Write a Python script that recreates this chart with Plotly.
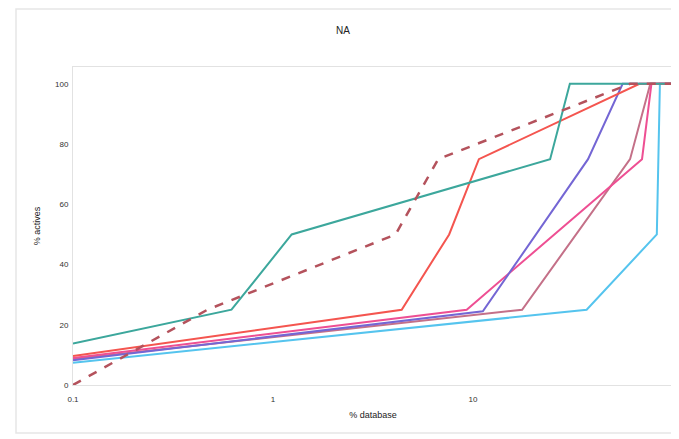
import plotly.graph_objects as go

# Data (x = % database, log scale; y = % actives)
teal_x = [0.1, 0.62, 1.24, 24.3, 30.5, 100]
teal_y = [13.8, 25, 50, 75, 100, 100]

dash_x = [0.1, 0.47, 4.1, 6.7, 61, 100]
dash_y = [0, 25, 50, 75, 100, 100]

red_x = [0.1, 4.4, 7.6, 10.7, 68, 100]
red_y = [9.6, 25, 50, 75, 100, 100]

violet_x = [0.1, 11.2, 37.6, 56, 100]
violet_y = [8.2, 24.5, 75, 100, 100]

pink_x = [0.1, 9.3, 70, 78, 100]
pink_y = [9.0, 25, 75, 100, 100]

mauve_x = [0.1, 17.6, 61, 77, 100]
mauve_y = [8.6, 25, 75, 100, 100]

cyan_x = [0.1, 37, 83, 86, 100]
cyan_y = [7.4, 25, 50, 100, 100]

x_ticks = [0.1, 1, 10, 100]
x_ticktext = ["0.1", "1", "10", "100"]
y_ticks = [0, 20, 40, 60, 80, 100]

series = [
    (cyan_x, cyan_y, "#55c4ee", "solid", 2),
    (mauve_x, mauve_y, "#c47088", "solid", 2),
    (pink_x, pink_y, "#ee4f93", "solid", 2),
    (violet_x, violet_y, "#7466d4", "solid", 2),
    (red_x, red_y, "#f4554f", "solid", 2),
    (teal_x, teal_y, "#3ca79c", "solid", 2),
    (dash_x, dash_y, "#b4525c", "dash", 2.5),
]

fig = go.Figure()
for xs, ys, col, dash, w in series:
    fig.add_trace(go.Scatter(x=xs, y=ys, mode="lines",
                             line=dict(color=col, width=w, dash=dash),
                             showlegend=False, hoverinfo="skip"))

W, H = 671, 431  # page body has an 8px margin
fig.update_layout(
    width=W, height=H,
    margin=dict(l=65, r=6, t=59, b=54),
    paper_bgcolor="white", plot_bgcolor="white",
    font=dict(family="Liberation Sans, Arial, sans-serif", size=8, color="#333"),
    title=dict(text="NA", x=(343 - 8) / W, xanchor="center", y=1 - (30 - 8) / H,
               yanchor="middle", font=dict(size=10, color="#222")),
    xaxis=dict(type="log", range=[-1, 2], tickvals=x_ticks, ticktext=x_ticktext,
               showgrid=False, zeroline=False, showline=True, linecolor="#e2e2e2",
               linewidth=1, mirror=True, ticks="", ticklen=0, ticklabelstandoff=6,
               title=dict(text="% database", font=dict(size=9, color="#222"), standoff=9)),
    yaxis=dict(range=[0, 105.6], tickvals=y_ticks, showgrid=False, zeroline=False,
               showline=True, linecolor="#e2e2e2", linewidth=1, mirror=True, ticks="",
               ticklabelstandoff=2,
               title=dict(text="% actives", font=dict(size=9, color="#222"), standoff=12)),
)

# outer light frame around the chart
fig.add_shape(type="rect", xref="paper", yref="paper",
              x0=(16 - 73) / 600, x1=(678 - 73) / 600,
              y0=(385 - 433) / 318, y1=(385 - 9) / 318,
              line=dict(color="#e6e6e6", width=1.5), layer="below")

fig.write_html("out.html")
